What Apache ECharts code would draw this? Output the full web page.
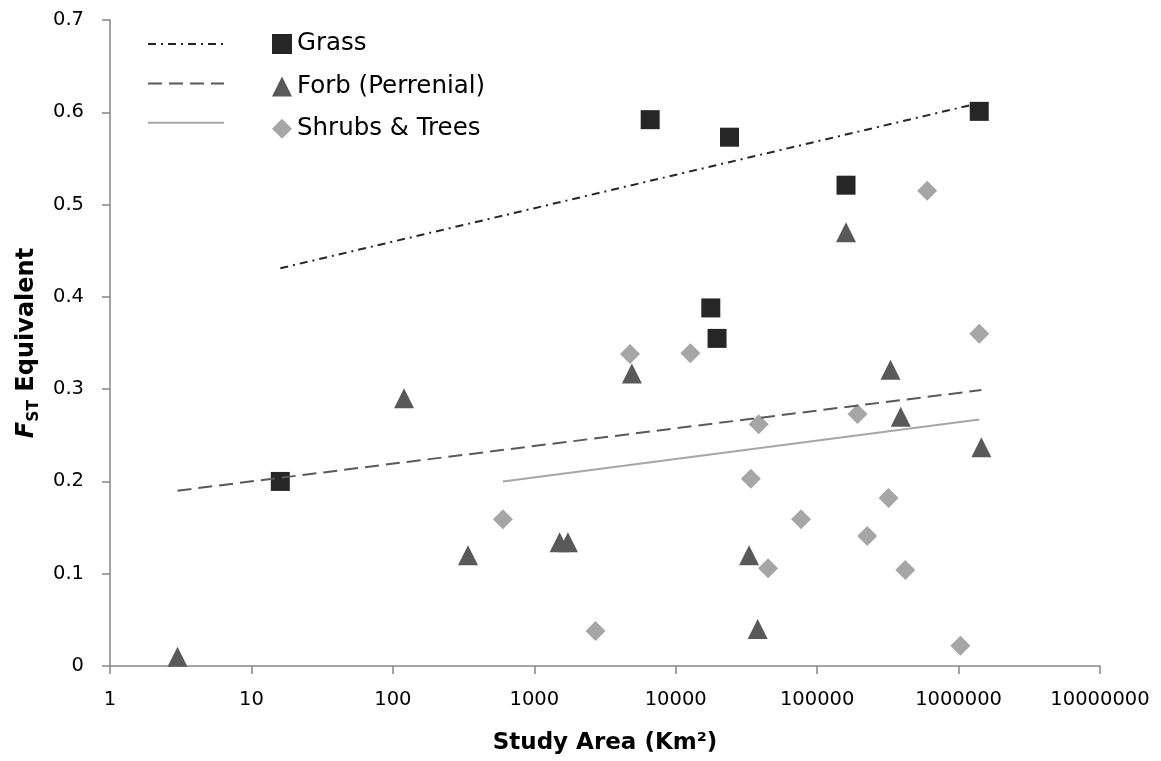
<!DOCTYPE html>
<html>
<head>
<meta charset="utf-8">
<script src="https://cdn.jsdelivr.net/npm/echarts@6/dist/echarts.min.js"></script>
<style>
  html, body { margin: 0; padding: 0; background: #ffffff; }
  #chart { width: 1161px; height: 761px; }
</style>
</head>
<body>
<div id="chart"></div>
<script>
// Study area (km²) and FST-equivalent values, by growth form
const grassArea = [16, 6600, 24000, 160000, 17700, 19600, 1400000];
const grassFst  = [0.200, 0.592, 0.573, 0.521, 0.388, 0.355, 0.601];

const forbArea = [3, 120, 340, 1510, 1730, 4900, 33000, 38000, 160000, 330000, 390000, 1450000];
const forbFst  = [0.010, 0.290, 0.120, 0.134, 0.134, 0.317, 0.120, 0.040, 0.470, 0.321, 0.270, 0.237];

const shrubArea = [600, 2710, 4750, 12700, 34000, 38600, 45000, 77000, 193000, 226000, 320000, 420000, 600000, 1030000, 1400000];
const shrubFst  = [0.159, 0.038, 0.338, 0.339, 0.203, 0.262, 0.106, 0.159, 0.273, 0.141, 0.182, 0.104, 0.515, 0.022, 0.360];

// Logarithmic trend lines: end points at the smallest and largest study area
const grassTrend = [[16, 0.431], [1400000, 0.610]];
const forbTrend  = [[3, 0.190], [1450000, 0.299]];
const shrubTrend = [[600, 0.200], [1400000, 0.267]];

// Axis tick labels
const xTickLabels = ['1', '10', '100', '1000', '10000', '100000', '1000000', '10000000'];
const yTickLabels = ['0', '0.1', '0.2', '0.3', '0.4', '0.5', '0.6', '0.7'];

const seriesNames = ['Grass', 'Forb (Perrenial)', 'Shrubs & Trees'];
const trendNames  = ['Grass trend', 'Forb trend', 'Shrubs trend'];

const zip = (xs, ys) => xs.map((x, i) => [x, ys[i]]);

const FONT = 'DejaVu Sans';
const chart = echarts.init(document.getElementById('chart'), null, { renderer: 'canvas' });

chart.setOption({
  animation: false,
  backgroundColor: '#ffffff',
  textStyle: { fontFamily: FONT, color: '#000000' },
  grid: { left: 110, right: 61, top: 20, bottom: 95, containLabel: false },
  legend: [
    {
      // line samples for the trend lines (text left blank)
      data: trendNames,
      orient: 'vertical',
      left: 147,
      top: 29,
      padding: 0,
      itemWidth: 76,
      itemHeight: 30,
      itemGap: 12.4,
      formatter: () => '',
      selectedMode: false,
      itemStyle: { opacity: 0, borderWidth: 0 },
      textStyle: { fontSize: 1 }
    },
    {
      data: [
        { name: seriesNames[0], icon: 'rect' },
        { name: seriesNames[1], icon: 'triangle' },
        { name: seriesNames[2], icon: 'diamond' }
      ],
      orient: 'vertical',
      left: 272,
      top: 29,
      padding: 0,
      itemWidth: 20,
      itemHeight: 20,
      itemGap: 12.4,
      selectedMode: false,
      textStyle: { fontFamily: FONT, fontSize: 24.5, color: '#000000', lineHeight: 30 }
    }
  ],
  xAxis: {
    type: 'log',
    logBase: 10,
    min: 1,
    max: 10000000,
    name: 'Study Area (Km²)',
    nameLocation: 'middle',
    nameGap: 66,
    nameTextStyle: { fontFamily: FONT, fontWeight: 'bold', fontSize: 23, color: '#000000' },
    axisLine: { show: true, onZero: false, lineStyle: { color: '#868686', width: 1.5 } },
    axisTick: { show: true, inside: false, length: 8, lineStyle: { color: '#868686', width: 1.5 } },
    minorTick: { show: false },
    splitLine: { show: false },
    axisLabel: {
      margin: 24,
      fontFamily: FONT,
      fontSize: 19.5,
      color: '#000000',
      formatter: (v) => xTickLabels[Math.round(Math.log10(v))]
    }
  },
  yAxis: {
    type: 'value',
    min: 0,
    max: 0.7,
    interval: 0.1,
    name: '{f|F}{s|ST}{e| Equivalent}',
    nameLocation: 'middle',
    nameRotate: 90,
    nameGap: 68,
    nameTextStyle: {
      fontFamily: FONT,
      fontWeight: 'bold',
      color: '#000000',
      rich: {
        f: { fontFamily: FONT, fontSize: 24, fontWeight: 'bold', fontStyle: 'italic', lineHeight: 30, verticalAlign: 'middle' },
        s: { fontFamily: FONT, fontSize: 15.5, fontWeight: 'bold', lineHeight: 14, verticalAlign: 'bottom' },
        e: { fontFamily: FONT, fontSize: 24, fontWeight: 'bold', lineHeight: 30, verticalAlign: 'middle' }
      }
    },
    axisLine: { show: true, lineStyle: { color: '#868686', width: 1.5 } },
    axisTick: { show: true, inside: false, length: 8, lineStyle: { color: '#868686', width: 1.5 } },
    splitLine: { show: false },
    axisLabel: {
      margin: 26,
      fontFamily: FONT,
      fontSize: 19.5,
      color: '#000000',
      formatter: (v) => yTickLabels[Math.round(v * 10)]
    }
  },
  series: [
    {
      name: seriesNames[0],
      type: 'scatter',
      symbol: 'rect',
      symbolSize: 19,
      itemStyle: { color: '#262626', opacity: 1 },
      data: zip(grassArea, grassFst),
      z: 2
    },
    {
      name: seriesNames[1],
      type: 'scatter',
      symbol: 'triangle',
      symbolSize: 20,
      itemStyle: { color: '#595959', opacity: 1 },
      data: zip(forbArea, forbFst),
      z: 2
    },
    {
      name: seriesNames[2],
      type: 'scatter',
      symbol: 'diamond',
      symbolSize: 20,
      itemStyle: { color: '#a6a6a6', opacity: 1 },
      data: zip(shrubArea, shrubFst),
      z: 2
    },
    {
      name: trendNames[0],
      type: 'line',
      symbol: 'none',
      silent: true,
      itemStyle: { color: '#262626' },
      lineStyle: { color: '#262626', width: 2, type: [8, 5, 2, 5] },
      data: grassTrend,
      z: 3
    },
    {
      name: trendNames[1],
      type: 'line',
      symbol: 'none',
      silent: true,
      itemStyle: { color: '#595959' },
      lineStyle: { color: '#595959', width: 2, type: [14, 7] },
      data: forbTrend,
      z: 3
    },
    {
      name: trendNames[2],
      type: 'line',
      symbol: 'none',
      silent: true,
      itemStyle: { color: '#a6a6a6' },
      lineStyle: { color: '#a6a6a6', width: 2, type: 'solid' },
      data: shrubTrend,
      z: 3
    }
  ]
});
</script>
</body>
</html>
